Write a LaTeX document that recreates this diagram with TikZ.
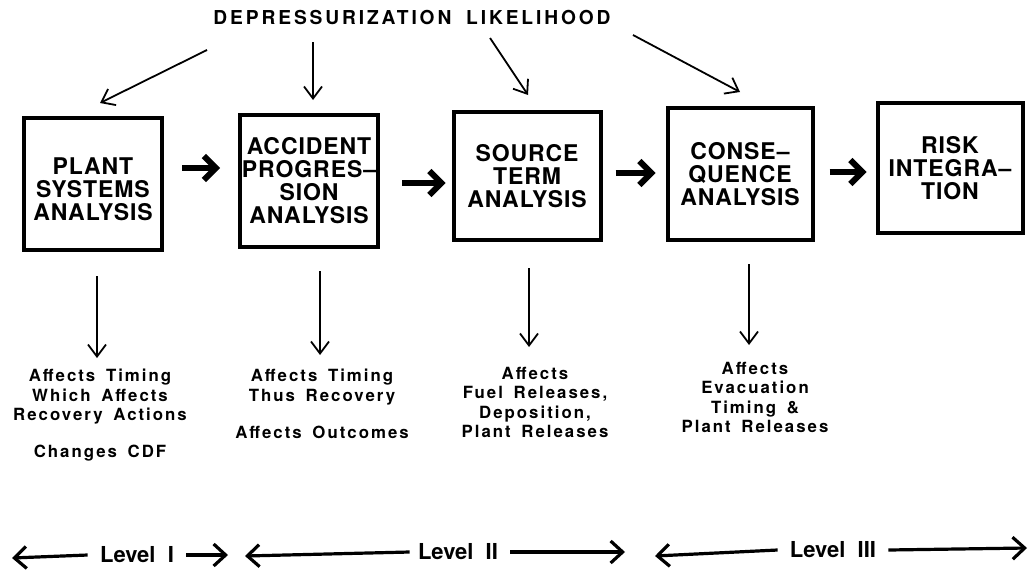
\documentclass[tikz,border=0pt]{standalone}
\usepackage{fontspec}
\setmainfont{TeX Gyre Heros}
\newfontfamily\boxfont[LetterSpace=4]{TeX Gyre Heros}
\newfontfamily\notefont[LetterSpace=12,WordSpace=1.6]{TeX Gyre Heros}
\newfontfamily\titlefont[LetterSpace=15,WordSpace=1.8]{TeX Gyre Heros}
\usetikzlibrary{arrows.meta}
\begin{document}
\begin{tikzpicture}[x=0.5pt,y=-0.5pt,
  box/.style={draw,line width=2pt,minimum width=69pt,minimum height=66pt,align=center,inner sep=0pt,
    font=\boxfont\bfseries\fontsize{11.5}{11.5}\selectfont},
  note/.style={align=center,anchor=north,inner sep=0pt,font=\notefont\bfseries\fontsize{8.4}{9.6}\selectfont},
  thin/.style={line width=0.9pt,-{Straight Barb[length=6pt,width=9pt,line width=0.9pt]}},
  big/.style={line width=3pt,-{Straight Barb[length=6pt,width=12pt,line width=3pt]}},
  lvl/.style={line width=1.6pt,-{Straight Barb[length=6pt,width=11pt,line width=1.6pt]}},
  lvltext/.style={inner sep=0pt,font=\bfseries\fontsize{11}{11}\selectfont}]
\useasboundingbox (0,0) rectangle (1032,578);

\node[inner sep=0pt,font=\titlefont\bfseries\fontsize{9.6}{10}\selectfont] (title) at (412,18) {DEPRESSURIZATION LIKELIHOOD};

\node[box] (b1) at (93,184) {\rule{0pt}{13.3pt}PLANT\\SYSTEMS\\ANALYSIS};
\node[box,minimum width=69pt] (b2) at (309,181) {ACCIDENT\\PROGRES\textendash\\SION\\ANALYSIS};
\node[box,minimum width=73.5pt,minimum height=64pt] (b3) at (527,176) {SOURCE\\TERM\\ANALYSIS};
\node[box,minimum width=72.5pt] (b4) at (740,174) {CONSE\textendash\\QUENCE\\ANALYSIS};
\node[box,minimum width=72.5pt,minimum height=65pt] (b5) at (950,168) {RISK\\INTEGRA\textendash\\TION};

\draw[big] ([yshift=8pt,xshift=9pt]b1.east) -- ([yshift=6.5pt,xshift=-9pt]b2.west);
\draw[big] ([yshift=-1pt,xshift=11pt]b2.east) -- ([yshift=-3.5pt,xshift=-3pt]b3.west);
\draw[big] ([yshift=1.5pt,xshift=6.5pt]b3.east) -- ([yshift=0.5pt,xshift=-5pt]b4.west);
\draw[big] ([yshift=1pt,xshift=7.5pt]b4.east) -- ([yshift=-2pt,xshift=-4.5pt]b5.west);

\coordinate (s1) at (207,50);  \coordinate (e1) at (100,103);
\coordinate (s2) at (313,42);  \coordinate (e2) at (313,100);
\coordinate (s3) at (490,38);  \coordinate (e3) at (528,95);
\coordinate (s4) at (633,35);  \coordinate (e4) at (740,92);
\draw[thin] (s1) -- (e1);
\draw[thin] (s2) -- (e2);
\draw[thin] (s3) -- (e3);
\draw[thin] (s4) -- (e4);

\node[note] (n1) at (100,369) {Affects Timing\\Which Affects\\Recovery Actions\\[9pt]Changes CDF};
\node[note] (n2) at (322,369) {Affects Timing\\Thus Recovery\\[9pt]Affects Outcomes};
\node[note] (n3) at (535,367) {Affects\\Fuel Releases,\\Deposition,\\Plant Releases};
\node[note] (n4) at (755,362) {Affects\\Evacuation\\Timing \&\\Plant Releases};

\draw[thin] ([xshift=2pt,yshift=-12pt]b1.south) -- ([xshift=-1.5pt,yshift=5.5pt]n1.north);
\draw[thin] ([xshift=5.5pt,yshift=-11pt]b2.south) -- ([xshift=-1pt,yshift=7pt]n2.north);
\draw[thin] ([xshift=1pt,yshift=-13pt]b3.south) -- ([xshift=-3pt,yshift=10pt]n3.north);
\draw[thin] ([xshift=4.5pt,yshift=-11pt]b4.south) -- ([xshift=-3pt,yshift=8.5pt]n4.north);

\node[lvltext] (l1) at (137,555) {Level\ \ I};
\node[lvltext] (l2) at (458,552) {Level\ \ II};
\node[lvltext] (l3) at (833,550) {Level\ \ III};
\coordinate (l1a) at (12,558); \coordinate (l1b) at (228,555);
\coordinate (l2a) at (245,556); \coordinate (l2b) at (625,552);
\coordinate (l3a) at (655,556); \coordinate (l3b) at (1027,548);
\draw[lvl] ([xshift=-6pt]l1.west) -- (l1a);
\draw[lvl] ([xshift=6pt]l1.east) -- (l1b);
\draw[lvl] ([xshift=-4pt]l2.west) -- (l2a);
\draw[lvl] ([xshift=6pt]l2.east) -- (l2b);
\draw[lvl] ([xshift=-6pt]l3.west) -- (l3a);
\draw[lvl] ([xshift=6pt]l3.east) -- (l3b);
\end{tikzpicture}
\end{document}
